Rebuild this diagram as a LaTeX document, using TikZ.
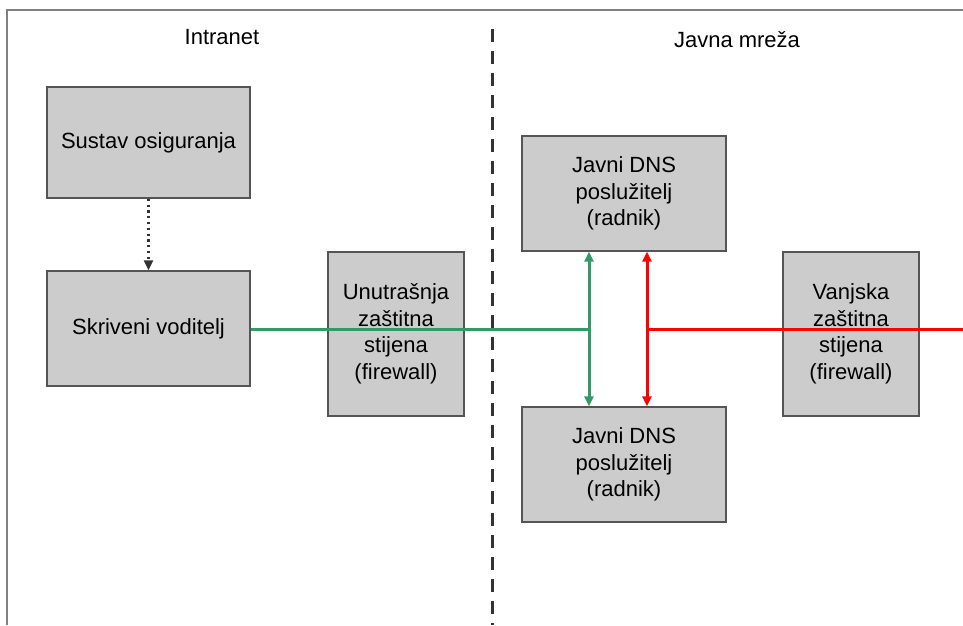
\documentclass[tikz,border=0pt]{standalone}
\usepackage{fontspec}
\setmainfont{Liberation Sans}
\usetikzlibrary{arrows.meta,calc}
\definecolor{boxfill}{HTML}{CCCCCC}
\definecolor{boxline}{HTML}{555555}
\definecolor{framegray}{HTML}{808080}
\definecolor{lgreen}{HTML}{339966}
\definecolor{lred}{HTML}{FF0000}
\begin{document}
\begin{tikzpicture}[x=1pt,y=-1pt,
  txt/.style={font=\fontsize{22}{26.5}\selectfont, inner sep=0pt},
  boxnode/.style={txt, draw=boxline, line width=1.4pt, fill=boxfill, align=center, anchor=center},
  conn/.style={line width=3pt},
  tipa/.style={-{Triangle[length=10pt,width=9pt]}},
  tipb/.style={{Triangle[length=10pt,width=9pt]}-{Triangle[length=10pt,width=9pt]}}
]
\useasboundingbox (0,0) rectangle (963,625);
% frame
\draw[framegray, line width=2pt] (7,625) -- (7,10) -- (963,10);
% divider
\draw[black!80, line width=3pt, dash pattern=on 13pt off 9pt] (492,29) -- (492,625);
% section labels
\node[txt] (intra) at (222,37) {Intranet};
\node[txt] (javna) at (737,40) {Javna mreža};
% boxes
\node[boxnode, minimum width=203pt, minimum height=111pt] (sus) at (148.5,142.5) {Sustav osiguranja};
\node[boxnode, minimum width=203pt, minimum height=115pt] (skr) at (148.5,328.5) {Skriveni voditelj};
\node[boxnode, minimum width=136pt, minimum height=164pt] (unu) at (396,334) {Unutrašnja\\zaštitna\\stijena\\(firewall)};
\node[boxnode, minimum width=204pt, minimum height=115pt] (dnsa) at (624,193.5) {Javni DNS\\poslužitelj\\(radnik)};
\node[boxnode, minimum width=204pt, minimum height=115pt] (dnsb) at (624,464.5) {Javni DNS\\poslužitelj\\(radnik)};
\node[boxnode, minimum width=136pt, minimum height=164pt] (vanj) at (851,334) {Vanjska\\zaštitna\\stijena\\(firewall)};
% coordinates
\coordinate (gj) at (589,329);
\coordinate (rj) at (647,329);
\coordinate (rend) at (963,329);
% dotted arrow
\draw[black!80, line width=2.2pt, dash pattern=on 2.2pt off 3.6pt, tipa] (sus.south) -- (skr.north);
% green connectors
\draw[lgreen, conn] (skr.east |- gj) -- (gj);
\draw[lgreen, conn, tipb] (dnsa.south -| gj) -- (dnsb.north -| gj);
% red connectors
\draw[lred, conn] (rj) -- (rend);
\draw[lred, conn, tipb] (dnsa.south -| rj) -- (dnsb.north -| rj);
\end{tikzpicture}
\end{document}
